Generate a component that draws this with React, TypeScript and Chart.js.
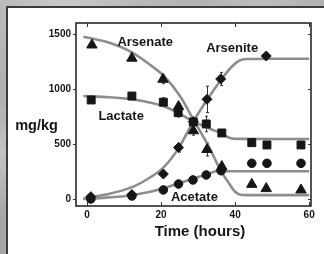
import React, { useEffect, useRef } from "react";
import { Chart, registerables } from "chart.js";

Chart.register(...registerables);

// ---- tick labels ----
const xTicks = [0, 20, 40, 60];
const yTicks = [0, 500, 1000, 1500];

// ---- measured points ----
const arsenateT = [1.3, 12.1, 20.5, 24.7, 28.7, 32.4, 36.4, 44.5, 48.4, 57.8];
const arsenateV = [1400, 1280, 1088, 840, 620, 450, 295, 133, 94, 82];
const arsenateErr = [0, 0, 40, 30, 40, 60, 25, 0, 0, 0];

const lactateT = [1.1, 12.1, 20.6, 24.6, 28.7, 32.2, 36.4, 44.5, 48.6, 57.8];
const lactateV = [900, 936, 880, 785, 700, 682, 600, 512, 491, 491];
const lactateErr = [0, 0, 40, 40, 0, 70, 0, 0, 0, 0];

const acetateT = [1, 12.1, 20.6, 24.7, 28.6, 32.2, 36.2, 44.5, 48.6, 57.8];
const acetateV = [0, 27, 82, 136, 173, 218, 257, 324, 324, 324];
const acetateErr = [0, 0, 0, 0, 0, 0, 0, 0, 0, 0];

const arseniteT = [1, 12.1, 20.6, 24.7, 28.7, 32.4, 36.1, 48.4];
const arseniteV = [21, 40, 227, 467, 703, 906, 1091, 1300];
const arseniteErr = [0, 0, 0, 40, 0, 120, 60, 0];

// ---- fitted curves ----
const arsenateFitT = [-1, 6, 12, 17, 21, 25, 29, 33, 36, 38, 40, 41.5, 43, 60];
const arsenateFitV = [1475, 1420, 1335, 1220, 1110, 940, 705, 470, 265, 160, 66, 38, 35, 35];

const arseniteFitT = [-1, 5, 12, 17, 20.6, 24.7, 28.7, 32.4, 36, 39, 41, 43, 50, 60];
const arseniteFitV = [5, 40, 105, 195, 285, 460, 705, 900, 1075, 1200, 1255, 1272, 1275, 1275];

const lactateFitT = [-1, 6, 12.5, 20.6, 24.7, 28.7, 32.4, 36, 38.6, 41, 50, 60];
const lactateFitV = [936, 925, 905, 845, 780, 705, 650, 600, 555, 546, 545, 545];

const acetateFitT = [-1, 5, 12.5, 20.6, 24.5, 28.7, 32.4, 36.3, 37.5, 60];
const acetateFitV = [0, 12, 36, 95, 140, 185, 225, 262, 252, 252];

// ---- series labels (text, x, y in data units) ----
const labelTexts = ["Arsenate", "Arsenite", "Lactate", "Acetate"];
const labelX = [15.7, 39.2, 9.2, 29];
const labelY = [1427, 1373, 755, 18];

const pts = (t: number[], v: number[]) => t.map((x, i) => ({ x, y: v[i] }));

const FONT = "'Liberation Sans', Arial, Helvetica, sans-serif";
const INK = "#161616";

const overlay = {
  id: "overlay",
  beforeDatasetsDraw(chart: any) {
    const { ctx, scales } = chart;
    const xs = scales.x;
    const ys = scales.y;
    const sets: [number[], number[], number[]][] = [
      [arsenateT, arsenateV, arsenateErr],
      [lactateT, lactateV, lactateErr],
      [acetateT, acetateV, acetateErr],
      [arseniteT, arseniteV, arseniteErr],
    ];
    ctx.save();
    ctx.strokeStyle = "#333";
    ctx.lineWidth = 1;
    for (const [t, v, e] of sets) {
      t.forEach((x, i) => {
        if (!e[i]) return;
        const px = Math.round(xs.getPixelForValue(x)) + 0.5;
        const y1 = ys.getPixelForValue(v[i] + e[i]);
        const y2 = ys.getPixelForValue(v[i] - e[i]);
        ctx.beginPath();
        ctx.moveTo(px, y1);
        ctx.lineTo(px, y2);
        ctx.moveTo(px - 1.5, y1);
        ctx.lineTo(px + 1.5, y1);
        ctx.moveTo(px - 1.5, y2);
        ctx.lineTo(px + 1.5, y2);
        ctx.stroke();
      });
    }
    ctx.restore();
  },
  afterDraw(chart: any) {
    const { ctx, chartArea, scales } = chart;
    const xs = scales.x;
    const ys = scales.y;
    const { left, right, top, bottom } = chartArea;
    ctx.save();
    // frame
    ctx.strokeStyle = "#1a1a1a";
    ctx.lineWidth = 1.5;
    ctx.strokeRect(left, top, right - left, bottom - top);
    // ticks
    ctx.lineWidth = 1;
    ctx.strokeStyle = "#333";
    ctx.beginPath();
    for (const v of yTicks) {
      const py = Math.round(ys.getPixelForValue(v)) + 0.5;
      ctx.moveTo(left - 3, py);
      ctx.lineTo(left, py);
      ctx.moveTo(right, py);
      ctx.lineTo(right - 3, py);
    }
    for (const v of xTicks) {
      const px = Math.round(xs.getPixelForValue(v)) + 0.5;
      ctx.moveTo(px, bottom);
      ctx.lineTo(px, bottom - 4);
      ctx.moveTo(px, top);
      ctx.lineTo(px, top + 4);
    }
    ctx.stroke();
    // series labels
    ctx.fillStyle = INK;
    ctx.textAlign = "center";
    ctx.textBaseline = "middle";
    ctx.font = `bold 13px ${FONT}`;
    labelTexts.forEach((s, i) => {
      ctx.fillText(s, xs.getPixelForValue(labelX[i]), ys.getPixelForValue(labelY[i]));
    });
    // axis titles
    ctx.font = `bold 14.5px ${FONT}`;
    ctx.fillText("mg/kg", 36.5, 126);
    ctx.font = `bold 15px ${FONT}`;
    ctx.fillText("Time (hours)", 200, 232);
    ctx.restore();
  },
};

export default function App() {
  const ref = useRef<HTMLCanvasElement | null>(null);

  useEffect(() => {
    if (!ref.current) return;
    const fit = {
      borderColor: "#8d8d8d",
      borderWidth: 2.6,
      pointRadius: 0,
      showLine: true,
      fill: false,
      cubicInterpolationMode: "monotone" as const,
      order: 2,
    };
    const mark = (style: string, r: number) => ({
      pointStyle: style,
      pointRadius: r,
      backgroundColor: INK,
      borderColor: INK,
      borderWidth: 1,
      showLine: false,
      order: 1,
    });
    const chart = new Chart(ref.current, {
      type: "scatter",
      data: {
        datasets: [
          { ...fit, data: pts(arsenateFitT, arsenateFitV) },
          { ...fit, data: pts(arseniteFitT, arseniteFitV) },
          { ...fit, data: pts(lactateFitT, lactateFitV) },
          { ...fit, data: pts(acetateFitT, acetateFitV) },
          { ...mark("triangle", 6), data: pts(arsenateT, arsenateV) },
          { ...mark("rect", 5.6), data: pts(lactateT, lactateV) },
          { ...mark("circle", 4.3), data: pts(acetateT, acetateV) },
          { ...mark("rectRot", 5), data: pts(arseniteT, arseniteV) },
        ] as any,
      },
      options: {
        animation: false,
        responsive: false,
        devicePixelRatio: 1,
        layout: { padding: { left: 0, top: 23, right: 13, bottom: 0 } },
        plugins: { legend: { display: false }, tooltip: { enabled: false } },
        scales: {
          x: {
            type: "linear",
            min: -3,
            max: 60.5,
            grid: { display: false, drawTicks: false },
            border: { display: false },
            afterBuildTicks: (a: any) => {
              a.ticks = xTicks.map((value) => ({ value }));
            },
            afterFit: (s: any) => {
              s.height = 48;
            },
            ticks: {
              padding: 3,
              color: INK,
              font: { family: FONT, size: 10, weight: "bold" },
              callback: (v: any) => String(v),
            },
          },
          y: {
            type: "linear",
            min: -64,
            max: 1600,
            grid: { display: false, drawTicks: false },
            border: { display: false },
            afterBuildTicks: (a: any) => {
              a.ticks = yTicks.map((value) => ({ value }));
            },
            afterFit: (s: any) => {
              s.width = 76;
            },
            ticks: {
              padding: 5,
              color: INK,
              font: { family: FONT, size: 10, weight: "bold" },
              callback: (v: any) => String(v),
            },
          },
        },
      },
      plugins: [overlay],
    } as any);
    return () => chart.destroy();
  }, []);

  return (
    <div
      style={{
        position: "fixed",
        left: 0,
        top: 0,
        width: 324,
        height: 254,
        overflow: "hidden",
        background:
          "radial-gradient(ellipse at 20% 0%, #c9c9c9 0%, transparent 40%), radial-gradient(ellipse at 80% 5%, #bdbdbd 0%, transparent 35%), radial-gradient(ellipse at 0% 60%, #c4c4c4 0%, transparent 30%), #a6a6a6",
      }}
    >
      <div
        style={{
          position: "absolute",
          left: 6,
          top: 6,
          width: 318,
          height: 248,
          background: "#fff",
          borderLeft: "2px solid #3c3c3c",
          borderTop: "2px solid #3c3c3c",
          boxSizing: "border-box",
        }}
      />
      <canvas
        ref={ref}
        width={324}
        height={254}
        style={{ position: "absolute", left: 0, top: 0, width: 324, height: 254 }}
      />
    </div>
  );
}
